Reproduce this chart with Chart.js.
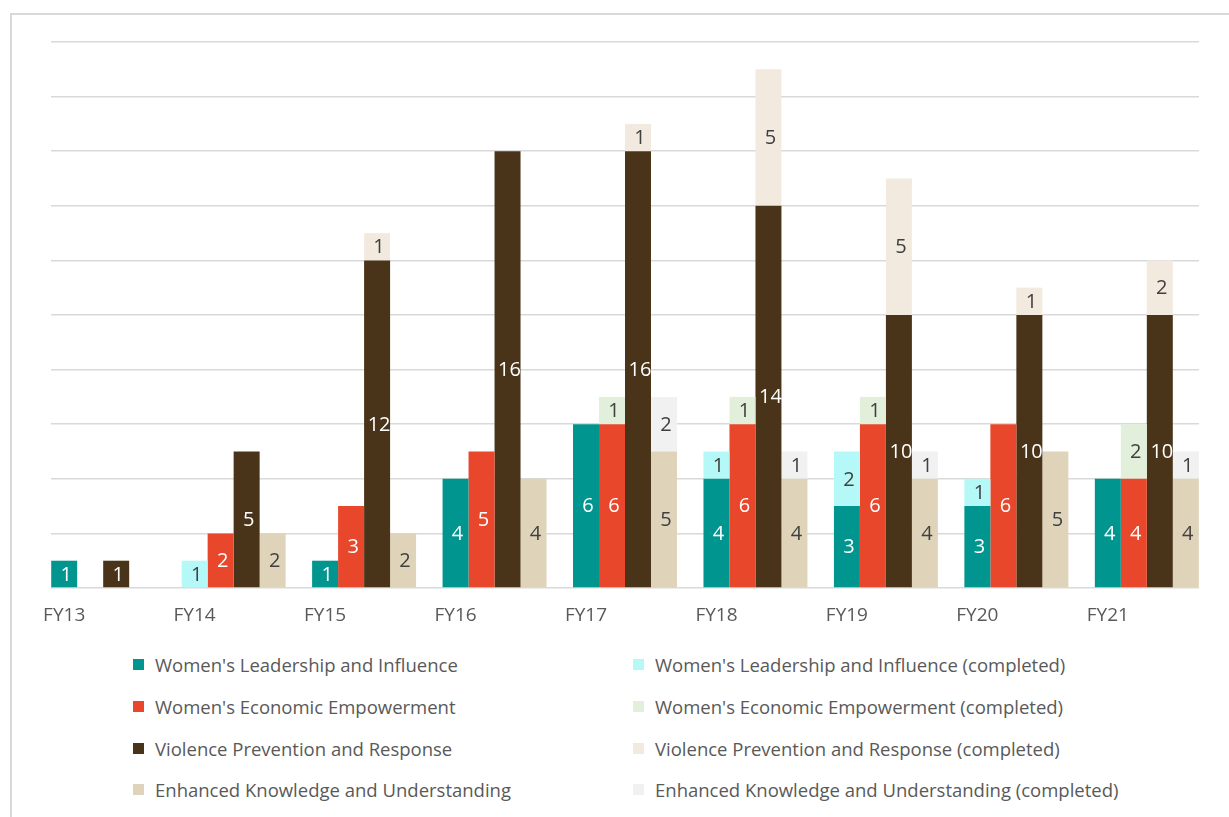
<!DOCTYPE html>
<html>
<head>
<meta charset="utf-8">
<script src="https://cdn.jsdelivr.net/npm/chart.js@4.4.1/dist/chart.umd.min.js"></script>
<style>
  html, body { margin: 0; padding: 0; background: #fff; }
  body { width: 1229px; height: 817px; position: relative; overflow: hidden; font-family: "Open Sans", sans-serif; }
  #frame { position: absolute; left: 10px; top: 13px; width: 1230px; height: 820px; border: 2px solid #d9d9d9; box-sizing: border-box; }
  #wrap { position: absolute; left: 0; top: 0; width: 1229px; height: 640px; }
  #legend { position: absolute; left: 133px; top: 644px; display: grid; grid-template-columns: 500px 500px; grid-auto-rows: 41.7px; }
  .li { display: flex; align-items: center; font-size: 18.5px; color: #595959; white-space: nowrap; }
  .sw { width: 11px; height: 11px; margin-right: 11px; flex: none; }
</style>
</head>
<body>
<div id="frame"></div>
<div id="wrap"><canvas id="c"></canvas></div>
<div id="legend"></div>
<script>
// Values; null = no segment in that year.
const years = ['FY13', 'FY14', 'FY15', 'FY16', 'FY17', 'FY18', 'FY19', 'FY20', 'FY21'];
const leadership     = [1, null, 1, 4, 6, 4, 3, 3, 4];
const leadershipDone = [null, 1, null, null, null, 1, 2, 1, null];
const economic       = [null, 2, 3, 5, 6, 6, 6, 6, 4];
const economicDone   = [null, null, null, null, 1, 1, 1, null, 2];
const violence       = [1, 5, 12, 16, 16, 14, 10, 10, 10];
const violenceDone   = [null, null, 1, null, 1, 5, 5, 1, 2];
const knowledge      = [null, 2, 2, 4, 5, 4, 4, 5, 4];
const knowledgeDone  = [null, null, null, null, 2, 1, 1, null, 1];

const GRID = '#d9d9d9', TXT = '#595959', FONT = '"Open Sans", sans-serif';

// Linear x (year index) so the plot area can be narrower than the outer groups'
// half-category padding, like the Excel original (gridlines stop at the bars).
function ds(label, data, stack, color, dark) {
  return { label: label, stack: stack, backgroundColor: color, borderWidth: 0,
    data: data.map(function (v, i) { return { x: i, y: v }; }),
    categoryPercentage: 0.797, barPercentage: 1, labelColor: dark ? '#ffffff' : '#404040' };
}

const datasets = [
  ds("Women's Leadership and Influence", leadership, 'L', '#00968f', true),
  ds("Women's Leadership and Influence (completed)", leadershipDone, 'L', '#b4f8f8', false),
  ds("Women's Economic Empowerment", economic, 'E', '#e8472b', true),
  ds("Women's Economic Empowerment (completed)", economicDone, 'E', '#e2efda', false),
  ds('Violence Prevention and Response', violence, 'V', '#4a3419', true),
  ds('Violence Prevention and Response (completed)', violenceDone, 'V', '#f2eadf', false),
  ds('Enhanced Knowledge and Understanding', knowledge, 'K', '#dfd4b9', false),
  ds('Enhanced Knowledge and Understanding (completed)', knowledgeDone, 'K', '#f1f1f1', false),
];

// Value labels in the middle of each segment (no datalabels plugin offline).
const segLabels = {
  id: 'segLabels',
  afterDatasetsDraw(chart) {
    const c = chart.ctx;
    c.save();
    c.font = '20px ' + FONT;
    c.textAlign = 'center';
    c.textBaseline = 'middle';
    chart.data.datasets.forEach(function (d, i) {
      chart.getDatasetMeta(i).data.forEach(function (bar, j) {
        const v = d.data[j].y;
        if (v == null || v === 0) return;
        c.fillStyle = d.labelColor;
        c.fillText(String(v), bar.x + 2, (bar.y + bar.base) / 2 + 1);
      });
    });
    c.restore();
  }
};

const chart = new Chart(document.getElementById('c'), {
  type: 'bar',
  data: { datasets: datasets },
  plugins: [segLabels],
  options: {
    responsive: true, maintainAspectRatio: false, animation: false,
    layout: { padding: { left: 51, right: 30, top: 42, bottom: 0 } },
    plugins: { legend: { display: false }, tooltip: { enabled: false } },
    scales: {
      x: {
        type: 'linear', stacked: true, min: -0.4, max: 8.4, offset: false,
        grid: { display: false, drawTicks: false },
        border: { display: false },
        ticks: { stepSize: 1, includeBounds: false, autoSkip: false, maxRotation: 0,
          callback: function (v) { return years[v]; },
          color: TXT, font: { family: FONT, size: 19 }, padding: 16, labelOffset: -39 },
        afterFit: function (s) { s.height = 52; }
      },
      y: {
        stacked: true, min: 0, max: 20,
        grid: { color: GRID, lineWidth: 1.5, drawTicks: false },
        border: { display: false },
        ticks: { display: false, stepSize: 2 }
      }
    }
  }
});

// HTML legend, two columns (plain series left, "completed" right).
const leg = document.getElementById('legend');
datasets.forEach(function (d) {
  const it = document.createElement('div');
  it.className = 'li';
  const sw = document.createElement('span');
  sw.className = 'sw';
  sw.style.background = d.backgroundColor;
  it.appendChild(sw);
  it.appendChild(document.createTextNode(d.label));
  leg.appendChild(it);
});
</script>
</body>
</html>
